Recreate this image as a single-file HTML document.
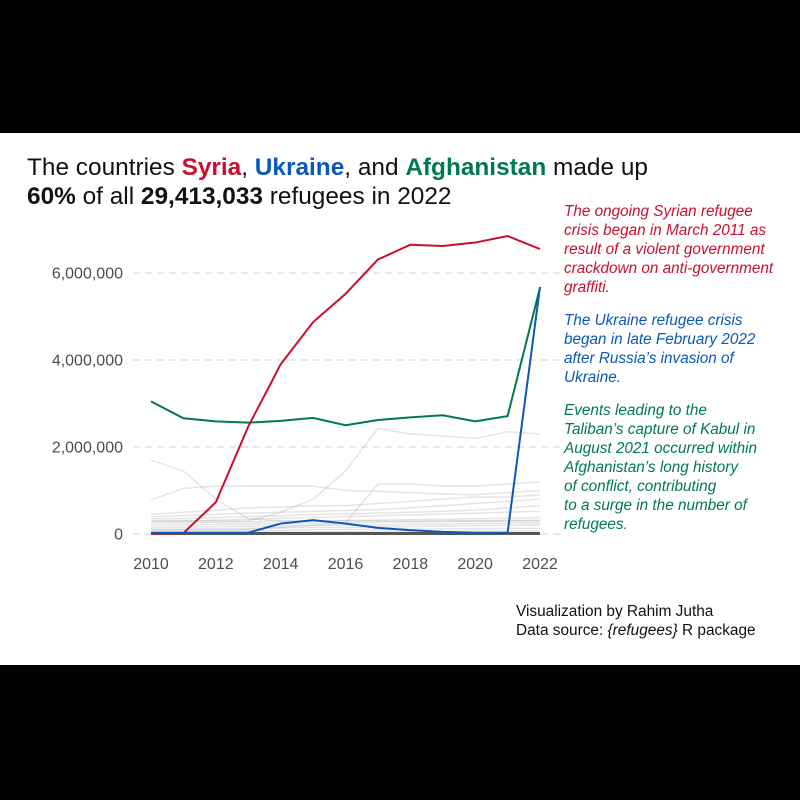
<!DOCTYPE html>
<html><head><meta charset="utf-8"><style>
body{margin:0;background:#000;}
#wrap{position:relative;width:800px;height:800px;background:#000;font-family:"Liberation Sans",sans-serif;}
#panel{position:absolute;left:0;top:133px;width:800px;height:532px;background:#fff;}
.t{position:absolute;white-space:nowrap;}
</style></head><body>
<div id="wrap">
<div id="panel"></div>
<div class="t" style="left:27px;top:154px;font-size:24.4px;color:#111;">The countries <b style="color:#c8102e">Syria</b>, <b style="color:#0a58b8">Ukraine</b>, and <b style="color:#007a4d">Afghanistan</b> made up</div>
<div class="t" style="left:27px;top:183px;font-size:24.4px;color:#111;"><b>60%</b> of all <b>29,413,033</b> refugees in 2022</div>
<svg id="chart" width="800" height="800" style="position:absolute;left:0;top:0"></svg>
<div class="t" style="left:564px;top:202px;font-size:15.3px;line-height:19px;font-style:italic;color:#c8102e;">The ongoing Syrian refugee<br>crisis began in March 2011 as<br>result of a violent government<br>crackdown on anti-government<br>graffiti.</div>
<div class="t" style="left:564px;top:311px;font-size:15.3px;line-height:19px;font-style:italic;color:#0a58b8;">The Ukraine refugee crisis<br>began in late February 2022<br>after Russia’s invasion of<br>Ukraine.</div>
<div class="t" style="left:564px;top:401px;font-size:15.3px;line-height:19px;font-style:italic;color:#007a4d;">Events leading to the<br>Taliban’s capture of Kabul in<br>August 2021 occurred within<br>Afghanistan’s long history<br>of conflict, contributing<br>to a surge in the number of<br>refugees.</div>
<div class="t" style="left:516px;top:602px;font-size:15.4px;line-height:19px;color:#111;">Visualization by Rahim Jutha<br>Data source: <i>{refugees}</i> R package</div>
</div>
<script>
const years=[2010,2011,2012,2013,2014,2015,2016,2017,2018,2019,2020,2021,2022];
const syria=[10000,20000,730000,2470000,3900000,4870000,5520000,6310000,6650000,6620000,6700000,6850000,6550000];
const ukraine=[30000,30000,30000,30000,240000,320000,240000,140000,90000,50000,30000,30000,5680000];
const afghanistan=[3050000,2660000,2590000,2560000,2600000,2670000,2500000,2620000,2680000,2730000,2590000,2710000,5660000];
const others=[
[1700000,1450000,800000,350000,300000,300000,300000,300000,300000,300000,300000,300000,300000],
[780000,1050000,1100000,1100000,1100000,1100000,1000000,980000,950000,920000,900000,950000,1000000],
[300000,300000,300000,300000,500000,800000,1450000,2430000,2300000,2250000,2200000,2350000,2300000],
[100000,100000,100000,100000,150000,200000,250000,1150000,1150000,1100000,1100000,1150000,1200000],
[450000,500000,550000,600000,620000,650000,650000,700000,750000,800000,850000,850000,900000],
[400000,420000,450000,480000,500000,520000,540000,560000,600000,650000,700000,750000,800000],
[350000,350000,380000,400000,420000,450000,460000,480000,500000,520000,550000,600000,650000],
[300000,300000,320000,340000,360000,380000,400000,420000,440000,460000,480000,500000,520000],
[250000,260000,270000,280000,290000,300000,310000,320000,330000,340000,350000,360000,380000],
[200000,210000,220000,230000,240000,250000,260000,270000,280000,290000,300000,310000,320000],
[150000,160000,170000,180000,190000,200000,200000,210000,220000,230000,240000,250000,260000],
[100000,110000,120000,130000,140000,150000,150000,160000,170000,180000,190000,200000,210000],
[60000,60000,70000,80000,90000,100000,100000,110000,110000,120000,120000,130000,130000],
[30000,30000,40000,40000,50000,50000,50000,60000,60000,60000,70000,70000,70000],
[10000,10000,10000,15000,15000,20000,20000,20000,25000,25000,25000,30000,30000]
];
const yTicks=[0,2000000,4000000,6000000];
const yTickLabels=["0","2,000,000","4,000,000","6,000,000"];
const xTicks=[2010,2012,2014,2016,2018,2020,2022];
const NS='http://www.w3.org/2000/svg';
const svg=document.getElementById('chart');
const x=v=>151+(v-2010)*(540-151)/12;
const y=v=>534-v*(534-273)/6000000;
function mk(tag,attrs){const e=document.createElementNS(NS,tag);for(const k in attrs)e.setAttribute(k,attrs[k]);svg.appendChild(e);return e;}
yTicks.forEach((t,i)=>{
 const g=mk('line',{x1:133,x2:560,y1:y(t),y2:y(t),stroke:'#e0e0e0','stroke-width':1.5,'stroke-dasharray':'7,5'});
 
 
 const l=mk('text',{x:123,y:y(t)+5.5,'text-anchor':'end','font-size':16,fill:'#4d4d4d','font-family':'Liberation Sans, sans-serif'});
 l.textContent=yTickLabels[i];
 
 
});
xTicks.forEach(t=>{
 const l=mk('text',{x:x(t),y:569,'text-anchor':'middle','font-size':16,fill:'#4d4d4d','font-family':'Liberation Sans, sans-serif'});
 l.textContent=t;
 
 
});
const pts=s=>s.map((v,i)=>x(years[i])+','+y(v)).join(' ');
others.forEach(s=>{
 const p=mk('polyline',{points:pts(s),fill:'none',stroke:'#999','stroke-opacity':0.25,'stroke-width':1.5});
 
 
});
const base=mk('line',{x1:x(2010),x2:x(2022),y1:y(0)-0.5,y2:y(0)-0.5,stroke:'#555','stroke-width':3});


[[afghanistan,'#007a4d','afghanistan-line'],[syria,'#c8102e','syria-line'],[ukraine,'#0a58b8','ukraine-line']].forEach(([s,c,n])=>{
 const p=mk('polyline',{points:pts(s),fill:'none',stroke:c,'stroke-width':2});
 
 
});
</script>
</body></html>
